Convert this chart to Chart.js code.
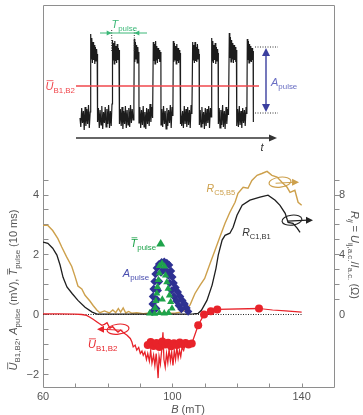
<!DOCTYPE html>
<html>
<head>
<meta charset="utf-8">
<script src="https://cdn.jsdelivr.net/npm/chart.js@4.4.1/dist/chart.umd.min.js"></script>
<style>
  html, body { margin: 0; padding: 0; background: #fff; }
  #wrap { position: relative; width: 363px; height: 415px; }
  #mainChart, #insetChart { position: absolute; left: 0; top: 0; }
</style>
</head>
<body>
<div id="wrap">
  <canvas id="mainChart" width="363" height="415"></canvas>
  <canvas id="insetChart" width="363" height="160"></canvas>
</div>
<script>
// ---- main panel data (B in mT, U / A / T on left axis, R in ohm on right axis) ----
const goldB = [60, 61.5, 63, 64.6, 65.8, 67.3, 68.9, 69.9, 70.8, 72, 73, 74.5, 75.5, 76.7, 77.6, 79, 80.5, 81.6, 82.5, 83.3,
  84, 84.8, 85.6, 86.5, 87.5, 89, 91, 93, 95, 97, 99, 101, 102.5, 103.5, 104.5, 105.5, 107, 108.6, 110, 111.7,
  113.2, 114.7, 116.3, 117.8, 119.4, 120.3, 121.9, 123.4, 124.6, 126.2, 127.7, 129.3, 130.8, 132.4, 133.9, 135.5, 136.4, 137.9, 138.9, 140];
const goldR = [5.94, 5.94, 5.6, 5.06, 4.5, 3.84, 3.2, 2.54, 1.9, 1.7, 1.28, 0.9, 0.6, 0.28, 0.12, 0.24, 0.1, 0.3, 0.12, 0.4,
  0.16, 0.44, 0.1, 0.2, 0.08, 0.12, 0.06, 0.1, 0.06, 0.12, 0.08, 0.1, 0.16, 0.24, 0.4, 0.64, 1.4, 1.96, 2.4, 3.42,
  4.28, 5.16, 6.08, 6.82, 7.48, 8.08, 8.48, 8.42, 8.94, 9.28, 9.4, 9.54, 9.28, 9.16, 8.82, 8.48, 8.14, 8.28, 7.48, 7.28];

const blackB = [60, 61.5, 63, 64.3, 65.3, 66.2, 67.4, 69, 70.8, 73, 75.2, 76.7, 80, 85, 90, 95, 100, 104, 106.5, 108,
  109, 110.7, 112.3, 113.5, 114.2, 115.4, 116.3, 117.8, 118.8, 120, 121.6, 124, 127.1, 129.6, 131.8, 133.3, 134.9, 135.8, 137.3, 138.6, 139.5];
const blackR = [4.82, 4.74, 4.42, 3.96, 3.28, 2.48, 1.84, 1.4, 0.94, 0.48, 0.16, 0.02, 0.02, 0.02, 0.02, 0.02, 0.02, 0.02, 0.04, 0.08,
  0.28, 0.94, 1.96, 3.08, 3.96, 4.96, 5.28, 5.42, 5.82, 6.62, 7.28, 7.62, 7.82, 7.96, 7.62, 7.28, 6.74, 6.14, 6.08, 5.76, 5.48];

const redTraceB = [60, 65, 70, 72, 73.5, 74.5, 75.5, 76.7, 77.5, 78.2, 79, 79.8, 80.7, 81.5, 82.3, 83.2, 84, 85, 86, 87,
  87.5, 87.9, 88.5, 89, 89.6, 90.1, 90.6, 91, 91.5, 92, 92.4, 92.9, 93.3, 93.7, 94.2, 94.6, 95, 95.4, 95.6, 95.9,
  96.3, 96.7, 97.1, 97.4, 97.8, 98.2, 98.6, 99, 99.4, 99.8, 100.2, 100.6, 101, 101.4, 101.8, 102.2, 102.6, 103, 103.5, 104];
const redTraceU = [0.02, 0.02, 0.01, 0, -0.03, -0.09, -0.16, -0.25, -0.31, -0.36, -0.33, -0.27, -0.46, -0.4, -0.5, -0.59, -0.52, -0.62, -0.69, -0.8,
  -0.92, -1.08, -1.02, -1.19, -1.1, -1.3, -1.22, -1.36, -1.25, -1.5, -1.3, -1.55, -1.2, -1.62, -1.35, -1.7, -1.3, -1.8, -2.12, -1.4,
  -1.65, -1.2, -0.59, -1.5, -1.75, -1.3, -1.6, -1.15, -1.55, -1.25, -1.7, -1.2, -1.5, -1.1, -1.45, -1.2, -1.4, -1.1, -1.2, -0.97];

const redDotB = [92.4, 93.3, 94.2, 95.1, 96.0, 96.9, 97.8, 98.7, 99.6, 100.5, 101.4, 102.3, 103.2, 104.1, 105.0, 106.0, 108.0, 109.8, 111.9, 113.9, 126.8];
const redDotU = [-1.02, -0.92, -1.05, -0.95, -1.08, -0.9, -1.0, -0.94, -1.06, -0.96, -1.02, -0.93, -0.99, -0.95, -1.0, -0.97, -0.36, 0.0, 0.11, 0.17, 0.2];
const redTailB = [126.8, 131, 135, 140];
const redTailU = [0.2, 0.15, 0.12, 0.08];

const apulseB = [93.9, 93.9, 94.0, 94.2, 94.5, 94.8, 95.2, 95.9, 96.7, 97.5, 98.3, 99.0,
  99.6, 100.0, 100.4, 101.0, 101.7, 102.4, 103.1, 103.8, 104.4, 104.9,
  95.0, 95.2, 95.5, 95.9, 96.5, 97.3, 98.2, 98.8, 99.2, 99.8, 100.5, 101.3, 102.0, 102.8];
const apulseA = [0.1, 0.35, 0.6, 0.85, 1.1, 1.35, 1.55, 1.68, 1.74, 1.76, 1.72, 1.65,
  1.45, 1.25, 1.05, 0.9, 0.75, 0.6, 0.47, 0.35, 0.22, 0.1,
  0.2, 0.5, 0.8, 1.1, 1.4, 1.5, 1.45, 1.3, 1.05, 0.8, 0.6, 0.45, 0.3, 0.18];

const tpulseB = [96.0, 96.8, 97.6, 96.0, 95.7, 95.4, 95.2, 94.9, 94.7, 97.9, 98.3, 98.7, 99.1, 99.5, 99.9, 93.0, 94.5, 96.0, 97.5, 98.8, 96.9];
const tpulseT = [1.62, 1.7, 1.6, 1.38, 1.15, 0.92, 0.7, 0.45, 0.22, 1.3, 1.08, 0.86, 0.64, 0.42, 0.2, 0.04, 0.03, 0.05, 0.04, 0.05, 0.5];

const zeroB = [60, 140];
const zeroU = [0, 0];

// axes
const Y_MIN = -2.417, Y_MAX = 10.317;
const xTicks = [70, 80, 90, 100, 110, 120, 130, 140];
const xLabels = [60, 100, 140];
const yTicks = [-2, -1.5, -1, -0.5, 0, 0.5, 1, 1.5, 2, 2.5, 3, 3.5, 4, 4.5];
const yLabels = [-2, 0, 2, 4];
const rTicks = [1, 2, 3, 4, 5, 6, 7, 8, 9];
const rLabels = [0, 4, 8];

// ---- inset trace (t in ms, voltage in arbitrary units) ----
const traceT = [
  4, 4.8, 5.7, 6.5, 7.4, 8.2, 9.1, 9.9, 10.8, 11.6, 12.5, 13.3, 14.2,
  14.7, 15.2, 15.8, 16.4, 17.0, 17.6, 18.2, 18.8, 19.4, 20.0, 20.6, 21.2, 21.5, 21.6,
  22.4, 23.3, 24.1, 25.0, 25.8, 26.7, 27.5, 28.4, 29.2, 30.1, 30.9, 31.8, 32.6, 33.5, 34.3, 35.2, 36.0,
  36.5, 37.0, 37.6, 38.2, 38.8, 39.4, 40.0, 40.6, 41.2, 41.8, 42.4, 43.0, 43.4, 43.5,
  44.3, 45.2, 46.0, 46.9, 47.7, 48.6, 49.4, 50.3, 51.1, 52.0, 52.8, 53.7, 54.5, 55.4, 56.2, 57.1, 57.9,
  58.3, 58.8, 59.4, 60.0, 60.6, 61.2, 61.8, 62.4, 62.9, 63.0,
  63.8, 64.7, 65.5, 66.4, 67.2, 68.1, 68.9, 69.8, 70.6, 71.5, 72.3, 73.2, 74.0, 74.9, 75.7, 76.6,
  77.3, 77.8, 78.4, 79.0, 79.6, 80.2, 80.8, 81.4, 82.0, 82.6, 83.2, 83.8, 84.4, 84.9, 85.0,
  85.8, 86.7, 87.5, 88.4, 89.2, 90.1, 90.9, 91.8, 92.6, 93.5, 94.3, 95.2, 96.0, 96.9,
  97.3, 97.8, 98.4, 99.0, 99.6, 100.2, 100.8, 101.4, 102.0, 102.6, 103.2, 103.8, 104.0, 104.1,
  104.9, 105.7, 106.6, 107.4, 108.3, 109.1, 110.0, 110.8, 111.7, 112.5, 113.4, 114.2, 115.1, 115.9,
  116.7, 117.2, 117.8, 118.4, 119.0, 119.6, 120.2, 120.8, 121.4, 122.0, 122.6, 123.1, 123.3, 123.4,
  124.2, 125.0, 125.9, 126.7, 127.6, 128.4, 129.3, 130.1, 131.0, 131.8, 132.7, 133.5, 134.4, 135.2,
  135.7, 136.2, 136.8, 137.4, 138.0, 138.6, 139.2, 139.8, 140.4, 141.0, 141.6, 142.1, 142.3, 142.4,
  143.2, 144.0, 144.9, 145.7, 146.6, 147.4, 148.3, 149.1, 150.0, 150.8, 151.7, 152.5,
  153.3, 153.8, 154.4, 155.0, 155.6, 156.2, 156.8, 157.4, 158.0, 158.6, 159.2, 159.8, 160.4, 160.7, 160.8,
  161.6, 162.4, 163.3, 164.1, 165.0, 165.8, 166.7, 167.5, 168.4, 169.2, 170.1, 170.9,
  171.3, 171.8, 172.4, 173.0, 173.6, 174.2, 174.8, 175.4, 176.0, 176.6, 177.1, 177.3, 177.4
];
const traceV = [
  2.0, 1.1, 3.0, 1.5, 2.7, 0.8, 3.1, 1.2, 2.9, 1.4, 3.3, 1.0, 2.6,
  10.4, 7.9, 10.0, 7.5, 9.6, 7.8, 9.3, 7.4, 9.1, 7.7, 8.9, 7.6, 8.4, 1.6,
  3.0, 1.0, 2.8, 1.3, 3.2, 0.9, 2.6, 1.5, 3.1, 1.1, 2.9, 1.4, 3.3, 1.0, 2.7, 1.2, 3.4,
  9.8, 7.8, 9.5, 7.4, 9.7, 7.7, 9.2, 7.5, 9.4, 7.8, 9.0, 7.6, 8.8, 1.4,
  2.9, 1.2, 3.1, 0.9, 2.7, 1.4, 3.2, 1.0, 2.8, 1.3, 3.0, 1.1, 3.3, 1.5, 2.9, 1.8, 3.6,
  9.9, 7.6, 9.6, 7.9, 9.3, 7.5, 9.1, 7.7, 8.6, 1.5,
  3.1, 1.0, 2.8, 1.3, 3.2, 1.1, 2.6, 0.9, 3.0, 1.4, 2.9, 1.2, 3.4, 1.6, 3.1, 2.0,
  9.6, 7.7, 9.4, 7.4, 9.7, 7.8, 9.2, 7.5, 9.0, 7.9, 8.8, 7.6, 8.6, 7.9, 1.3,
  2.9, 1.1, 3.2, 1.4, 2.7, 0.9, 3.0, 1.2, 2.8, 1.5, 3.3, 1.0, 3.1, 2.2,
  9.7, 7.6, 9.5, 7.8, 9.2, 7.4, 9.4, 7.7, 9.0, 7.5, 8.8, 7.8, 8.5, 1.4,
  3.0, 1.2, 2.7, 1.0, 3.2, 1.4, 2.9, 1.1, 3.1, 1.3, 2.8, 1.0, 3.3, 2.4,
  9.6, 7.8, 9.3, 7.5, 9.6, 7.7, 9.1, 7.6, 9.4, 7.9, 8.9, 7.7, 8.4, 1.3,
  2.8, 1.1, 3.1, 1.4, 2.6, 0.9, 3.0, 1.2, 2.9, 1.5, 3.2, 1.0, 3.0, 2.1,
  10.0, 7.7, 9.7, 7.5, 9.3, 7.8, 9.5, 7.4, 9.1, 7.7, 8.9, 7.6, 8.5, 1.4,
  3.0, 1.0, 2.8, 1.3, 3.3, 1.1, 2.7, 0.9, 3.1, 1.4, 2.9, 2.3,
  10.5, 8.0, 10.1, 7.6, 9.8, 7.9, 9.5, 7.5, 9.3, 7.8, 9.1, 7.6, 8.8, 8.0, 1.2,
  2.9, 1.1, 3.2, 1.3, 2.7, 1.0, 3.0, 1.5, 2.8, 1.2, 3.1, 2.4,
  9.9, 7.8, 9.7, 7.5, 9.4, 7.7, 9.2, 7.6, 9.0, 7.8, 8.7, 8.2, 1.6
];
const meanT = [0, 183];
const meanV = [5.2, 5.2];

const GOLD = '#cda04c', RED = '#e8232a', BLUE = '#2e3192', GREEN = '#1ea34b', AXIS = '#8e8e8e', TXT = '#555';
const FAM = '"Liberation Sans", Arial, sans-serif';

const pts = (xs, ys) => xs.map((v, i) => ({ x: v, y: ys[i] }));

// text with italic letters, subscripts and overbars
function drawRich(ctx, x, y, parts, size, color, align) {
  const font = p => (p.it ? 'italic ' : '') + (p.sub ? size * 0.72 : size) + 'px ' + FAM;
  let w = 0;
  parts.forEach(p => { ctx.font = font(p); p.w = ctx.measureText(p.t).width; w += p.w; });
  let cx = align === 'center' ? x - w / 2 : align === 'right' ? x - w : x;
  ctx.fillStyle = color; ctx.strokeStyle = color;
  ctx.textAlign = 'left'; ctx.textBaseline = 'alphabetic';
  parts.forEach(p => {
    ctx.font = font(p);
    ctx.fillText(p.t, cx, y + (p.sub ? size * 0.28 : 0));
    if (p.bar) {
      ctx.lineWidth = 0.8;
      ctx.beginPath(); ctx.moveTo(cx + 1, y - size * 0.85); ctx.lineTo(cx + p.w, y - size * 0.85); ctx.stroke();
    }
    cx += p.w;
  });
}

function arrowHead(ctx, x, y, dx, dy, len, half) {
  ctx.beginPath();
  ctx.moveTo(x, y);
  ctx.lineTo(x - dx * len - dy * half, y - dy * len + dx * half);
  ctx.lineTo(x - dx * len + dy * half, y - dy * len - dx * half);
  ctx.closePath(); ctx.fill();
}

function loopArrow(ctx, cx, cy, rx, ry, tipX, color) {
  const dir = Math.sign(tipX - cx);
  ctx.strokeStyle = color; ctx.fillStyle = color; ctx.lineWidth = 1.1;
  ctx.beginPath(); ctx.ellipse(cx, cy, rx, ry, -0.12, 0, Math.PI * 2); ctx.stroke();
  ctx.beginPath(); ctx.moveTo(cx - dir * rx * 0.4, cy + 1); ctx.lineTo(tipX - dir * 5, cy); ctx.stroke();
  arrowHead(ctx, tipX, cy, dir, 0, 7, 3.5);
}

const mainDecor = {
  id: 'mainDecor',
  beforeDatasetsDraw(chart) {
    const { ctx, chartArea: a, scales: { x, y, y2 } } = chart;
    ctx.save();
    ctx.strokeStyle = AXIS; ctx.lineWidth = 1;
    const L = a.left + 0.5, R = a.right + 0.5, T = a.top + 0.5, B = a.bottom + 0.5;
    ctx.beginPath();
    ctx.moveTo(L, B); ctx.lineTo(L, T); ctx.lineTo(R, T); ctx.lineTo(R, B); ctx.lineTo(L, B);
    ctx.stroke();
    ctx.beginPath();
    yTicks.forEach(v => { const p = Math.round(y.getPixelForValue(v)) + 0.5; ctx.moveTo(L, p); ctx.lineTo(L + 5, p); });
    rTicks.forEach(v => { const p = Math.round(y2.getPixelForValue(v)) + 0.5; ctx.moveTo(R, p); ctx.lineTo(R + 5, p); });
    xTicks.forEach(v => { const p = Math.round(x.getPixelForValue(v)) + 0.5; ctx.moveTo(p, B); ctx.lineTo(p, B - 4); });
    ctx.stroke();
    ctx.fillStyle = TXT; ctx.font = '11px ' + FAM; ctx.textBaseline = 'middle';
    ctx.textAlign = 'right';
    yLabels.forEach(v => ctx.fillText(v < 0 ? '\u2212' + Math.abs(v) : String(v), a.left - 4, y.getPixelForValue(v)));
    ctx.textAlign = 'left';
    rLabels.forEach(v => ctx.fillText(String(v), a.right + 5, y2.getPixelForValue(v)));
    ctx.textAlign = 'center';
    xLabels.forEach(v => ctx.fillText(String(v), x.getPixelForValue(v), a.bottom + 10));
    // axis titles
    drawRich(ctx, 188, 413, [{ t: 'B', it: true }, { t: ' (mT)' }], 11, TXT, 'center');
    ctx.save(); ctx.translate(17, 290); ctx.rotate(-Math.PI / 2);
    drawRich(ctx, 0, 0, [{ t: 'U', it: true, bar: true }, { t: 'B1,B2', sub: true }, { t: ', ' }, { t: 'A', it: true },
      { t: 'pulse', sub: true }, { t: ' (mV), ' }, { t: 'T', it: true, bar: true }, { t: 'pulse', sub: true }, { t: ' (10 ms)' }], 11, TXT, 'center');
    ctx.restore();
    ctx.save(); ctx.translate(351, 255); ctx.rotate(Math.PI / 2);
    drawRich(ctx, 0, 0, [{ t: 'R', it: true }, { t: 'ij', sub: true, it: true }, { t: ' = ' }, { t: 'U', it: true },
      { t: 'ij,a.c.', sub: true }, { t: '/' }, { t: 'I', it: true }, { t: 'a.c.', sub: true }, { t: ' (\u03A9)' }], 11, TXT, 'center');
    ctx.restore();
    ctx.restore();
  },
  afterDatasetsDraw(chart) {
    const { ctx, scales: { x, y, y2 } } = chart;
    ctx.save();
    drawRich(ctx, x.getPixelForValue(110.6), y2.getPixelForValue(8.45) + 4,
      [{ t: 'R', it: true }, { t: 'C5,B5', sub: true }], 10.5, GOLD, 'left');
    drawRich(ctx, x.getPixelForValue(121.6), y2.getPixelForValue(5.49) + 4,
      [{ t: 'R', it: true }, { t: 'C1,B1', sub: true }], 10.5, '#333', 'left');
    drawRich(ctx, x.getPixelForValue(73.9), y.getPixelForValue(-0.99) + 4,
      [{ t: 'U', it: true, bar: true }, { t: 'B1,B2', sub: true }], 11, RED, 'left');
    drawRich(ctx, x.getPixelForValue(95.0), y.getPixelForValue(2.38) + 4,
      [{ t: 'T', it: true, bar: true }, { t: 'pulse', sub: true }], 11, GREEN, 'right');
    drawRich(ctx, x.getPixelForValue(84.7), y.getPixelForValue(1.38) + 4,
      [{ t: 'A', it: true }, { t: 'pulse', sub: true }], 11, '#4a4fb0', 'left');
    // legend triangle next to T pulse label
    const tx = x.getPixelForValue(96.4), ty = y.getPixelForValue(2.37);
    ctx.fillStyle = GREEN;
    ctx.beginPath(); ctx.moveTo(tx, ty - 4.5); ctx.lineTo(tx + 4.5, ty + 3); ctx.lineTo(tx - 4.5, ty + 3); ctx.closePath(); ctx.fill();
    loopArrow(ctx, x.getPixelForValue(133.3), y2.getPixelForValue(8.82), 11, 5, x.getPixelForValue(139.2), GOLD);
    loopArrow(ctx, x.getPixelForValue(137.0), y2.getPixelForValue(6.29), 10, 5, x.getPixelForValue(143.5), '#222');
    loopArrow(ctx, x.getPixelForValue(83.2), y.getPixelForValue(-0.49), 11, 5, x.getPixelForValue(76.7), RED);
    ctx.restore();
  }
};

new Chart(document.getElementById('mainChart'), {
  type: 'scatter',
  data: {
    datasets: [
      { data: pts(tpulseB, tpulseT), pointStyle: 'triangle', pointRadius: 4.2, backgroundColor: GREEN, borderWidth: 0 },
      { data: pts(apulseB, apulseA), pointStyle: 'rectRot', pointRadius: 4.2, backgroundColor: BLUE, borderWidth: 0 },
      { data: pts(redDotB, redDotU), showLine: true, borderColor: RED, borderWidth: 1.3, pointRadius: 4, backgroundColor: RED, pointBorderWidth: 0 },
      { data: pts(redTailB, redTailU), showLine: true, borderColor: RED, borderWidth: 1.2, pointRadius: 0 },
      { data: pts(redTraceB, redTraceU), showLine: true, borderColor: RED, borderWidth: 1.3, pointRadius: 0 },
      { data: pts(blackB, blackR), yAxisID: 'y2', showLine: true, borderColor: '#1f1f1f', borderWidth: 1.3, pointRadius: 0 },
      { data: pts(goldB, goldR), yAxisID: 'y2', showLine: true, borderColor: GOLD, borderWidth: 1.4, pointRadius: 0 },
      { data: pts(zeroB, zeroU), showLine: true, borderColor: '#222', borderWidth: 1, borderDash: [1, 1.5], pointRadius: 0 }
    ]
  },
  options: {
    responsive: false, animation: false, devicePixelRatio: 1,
    layout: { padding: { left: 43, right: 29, top: 5, bottom: 28 } },
    plugins: { legend: { display: false }, tooltip: { enabled: false } },
    elements: { point: { hoverRadius: 0 } },
    scales: {
      x: { type: 'linear', min: 60, max: 150, display: false },
      y: { type: 'linear', min: Y_MIN, max: Y_MAX, display: false },
      y2: { type: 'linear', min: 2 * Y_MIN, max: 2 * Y_MAX, display: false, position: 'right' }
    }
  },
  plugins: [mainDecor]
});

// ---- inset ----
const insetDecor = {
  id: 'insetDecor',
  afterDatasetsDraw(chart) {
    const { ctx, scales: { x, y } } = chart;
    const px = t => x.getPixelForValue(t), py = v => y.getPixelForValue(v);
    ctx.save();
    // time axis
    ctx.strokeStyle = '#333'; ctx.fillStyle = '#333'; ctx.lineWidth = 1.4;
    ctx.beginPath(); ctx.moveTo(px(0), py(0)); ctx.lineTo(px(196), py(0)); ctx.stroke();
    arrowHead(ctx, px(201), py(0), 1, 0, 8, 3.5);
    drawRich(ctx, px(186), py(-1.3), [{ t: 't', it: true }], 11, '#333', 'center');
    // dotted guides
    ctx.strokeStyle = '#333'; ctx.lineWidth = 1; ctx.setLineDash([1, 1.5]);
    ctx.beginPath();
    ctx.moveTo(px(35.7), py(10.8)); ctx.lineTo(px(35.7), py(8.6));
    ctx.moveTo(px(58.3), py(10.8)); ctx.lineTo(px(58.3), py(8.6));
    ctx.moveTo(px(179), py(9.1)); ctx.lineTo(px(202), py(9.1));
    ctx.moveTo(px(179), py(2.5)); ctx.lineTo(px(202), py(2.5));
    ctx.stroke(); ctx.setLineDash([]);
    // T pulse arrow
    ctx.strokeStyle = '#3cb878'; ctx.fillStyle = '#3cb878'; ctx.lineWidth = 1;
    ctx.beginPath(); ctx.moveTo(px(24), py(10.5)); ctx.lineTo(px(71), py(10.5)); ctx.stroke();
    arrowHead(ctx, px(35.7), py(10.5), 1, 0, 5, 2.5);
    arrowHead(ctx, px(58.3), py(10.5), -1, 0, 5, 2.5);
    drawRich(ctx, px(35.5), py(10.5) - 5, [{ t: 'T', it: true }, { t: 'pulse', sub: true }], 11, '#3cb878', 'left');
    // A pulse arrow
    ctx.strokeStyle = '#3b3f9f'; ctx.fillStyle = '#3b3f9f'; ctx.lineWidth = 1.4;
    ctx.beginPath(); ctx.moveTo(px(190), py(8.4)); ctx.lineTo(px(190), py(3.2)); ctx.stroke();
    arrowHead(ctx, px(190), py(9.0), 0, -1, 8, 4);
    arrowHead(ctx, px(190), py(2.6), 0, 1, 8, 4);
    drawRich(ctx, px(195), py(5.6) + 4, [{ t: 'A', it: true }, { t: 'pulse', sub: true }], 11, '#6a6fc4', 'left');
    // mean label
    drawRich(ctx, px(-1), py(5.2) + 4, [{ t: 'U', it: true, bar: true }, { t: 'B1,B2', sub: true }], 11, '#f0474d', 'right');
    ctx.restore();
  }
};

new Chart(document.getElementById('insetChart'), {
  type: 'scatter',
  data: {
    datasets: [
      { data: pts(meanT, meanV), showLine: true, borderColor: '#f0474d', borderWidth: 1.4, pointRadius: 0 },
      { data: pts(traceT, traceV), showLine: true, borderColor: '#1c1c1c', borderWidth: 1.2, pointRadius: 0 }
    ]
  },
  options: {
    responsive: false, animation: false, devicePixelRatio: 1,
    layout: { padding: { left: 76, right: 87, top: 18, bottom: 22 } },
    plugins: { legend: { display: false }, tooltip: { enabled: false } },
    scales: {
      x: { type: 'linear', min: 0, max: 200, display: false },
      y: { type: 'linear', min: 0, max: 12, display: false }
    }
  },
  plugins: [insetDecor]
});
</script>
</body>
</html>
